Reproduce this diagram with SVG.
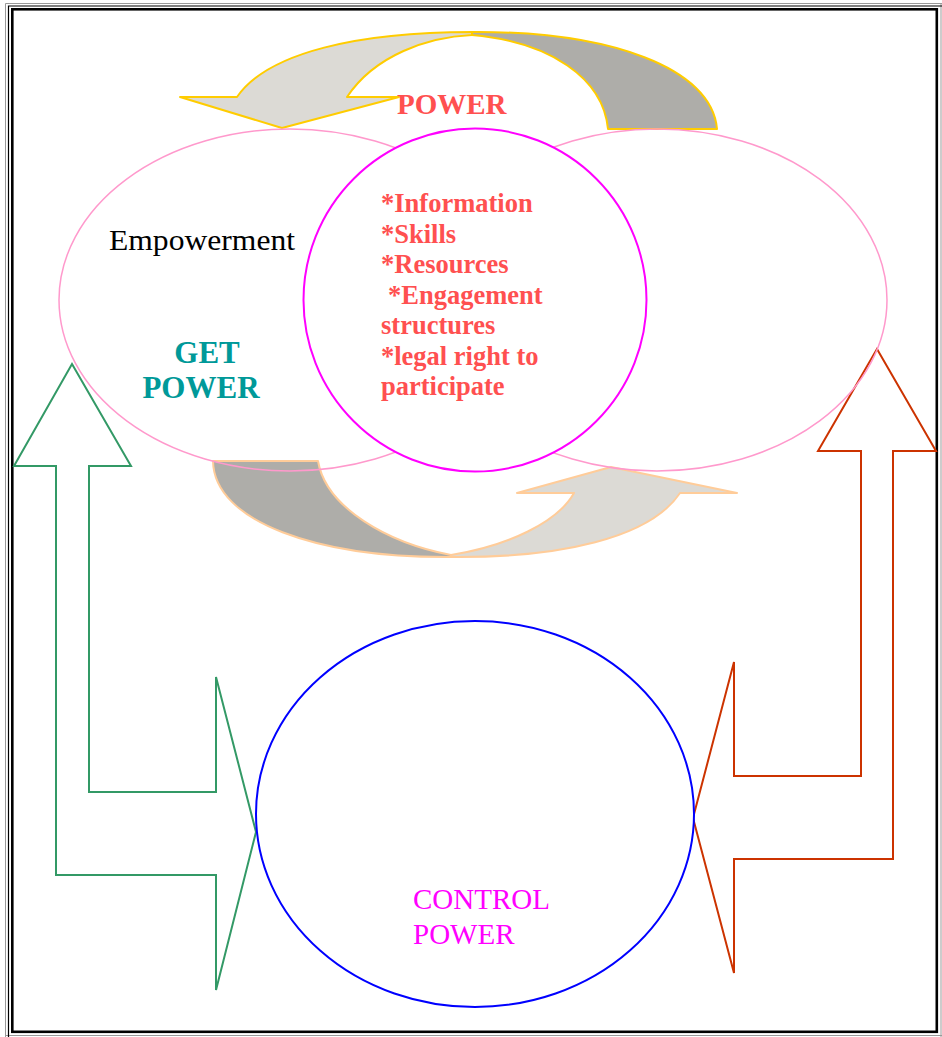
<svg xmlns="http://www.w3.org/2000/svg" width="942" height="1037" viewBox="0 0 942 1037">
<style>
.frameG{fill:none;stroke:#999999;stroke-width:1}
.frameB{fill:none;stroke:#000000;stroke-width:1.2}
.frameT{fill:none;stroke:#000000;stroke-width:2.6}
.light{fill:#DCDAD5}
.dark{fill:#AEADA9}
.topA{stroke:#FFCC00;stroke-width:2;stroke-linejoin:round}
.botA{stroke:#FFCC99;stroke-width:2;stroke-linejoin:round}
.ell{fill:none;stroke:#FF99CC;stroke-width:1.5}
.mid{fill:#FFFFFF;stroke:#FF00FF;stroke-width:2}
.ctrl{fill:#FFFFFF;stroke:#0000FF;stroke-width:2}
.serif{font-family:'Liberation Serif','Times New Roman',serif}
.red{fill:#FF5050;font-weight:bold}
.list{font-size:26.5px}
</style>
<rect width="942" height="1037" fill="#FFFFFF"/>
<g id="frame">
<path class="frameG" d="M5.5,1037 V3.5 H942 M5.5,1035.5 H942 M941,3.5 V1037"/>
<path class="frameB" d="M8.5,1037 V6 H942"/>
<rect class="frameT" x="12.3" y="9.3" width="924.5" height="1022.5"/>
</g>
<g id="connectors">
<g id="top-arrow">
<path class="light topA" d="M180,97 L237,97 C268,52 360,32 472,32 L472,35 C428,37 375,55 347,97 L399,97 L282,128 Z"/>
<path class="dark topA" d="M472,32 C610,31 712,68 717,129 L608,129 C603,78 550,42 472,35 Z"/>
</g>
<g id="bottom-arrow">
<path class="dark botA" d="M213,461 L318,461 C326,508 388,543 451,555 L451,557 C318,558 214,522 213,461 Z"/>
<path class="light botA" d="M451,555 C508,546 558,522 574,493 L517,493 L611,467 L737,493 L680,493 C650,538 560,558 451,557 Z"/>
</g>
<polygon id="arrow-left" points="72,364 131,466 89,466 89,792 216,792 216,677 256,832 216,990 216,875 56,875 56,466 14,466" fill="none" stroke="#339966" stroke-width="2" stroke-linejoin="miter"/>
<polygon id="arrow-right" points="877,349 936,451 893,451 893,859 734,859 734,973 693,818 734,662 734,776 861,776 861,451 818,451" fill="none" stroke="#CC3300" stroke-width="2" stroke-linejoin="miter"/>
</g>
<g id="node-empowerment">
<ellipse class="ell" cx="290" cy="300" rx="231" ry="171"/>
<text class="serif" x="109" y="250" font-size="30" fill="#000000" textLength="186" lengthAdjust="spacingAndGlyphs">Empowerment</text>
<text class="serif" x="207" y="363" font-size="31" font-weight="bold" fill="#009999" text-anchor="middle">GET</text>
<text class="serif" x="201" y="398" font-size="31" font-weight="bold" fill="#009999" text-anchor="middle">POWER</text>
</g>
<g id="node-right">
<ellipse class="ell" cx="657" cy="300" rx="230" ry="171"/>
</g>
<g id="node-power">
<circle class="mid" cx="475" cy="300" r="171.5"/>
<text class="serif red" x="397" y="114" font-size="29">POWER</text>
<text class="serif red list" x="381" y="212">*Information</text>
<text class="serif red list" x="381" y="243">*Skills</text>
<text class="serif red list" x="381" y="273">*Resources</text>
<text class="serif red list" x="388" y="304">*Engagement</text>
<text class="serif red list" x="381" y="334">structures</text>
<text class="serif red list" x="381" y="365">*legal right to</text>
<text class="serif red list" x="381" y="395">participate</text>
</g>
<g id="node-control">
<ellipse class="ctrl" cx="475" cy="814" rx="219" ry="193"/>
<text class="serif" x="413" y="909" font-size="29" fill="#FF00FF">CONTROL</text>
<text class="serif" x="413" y="944" font-size="29" fill="#FF00FF">POWER</text>
</g>
</svg>
